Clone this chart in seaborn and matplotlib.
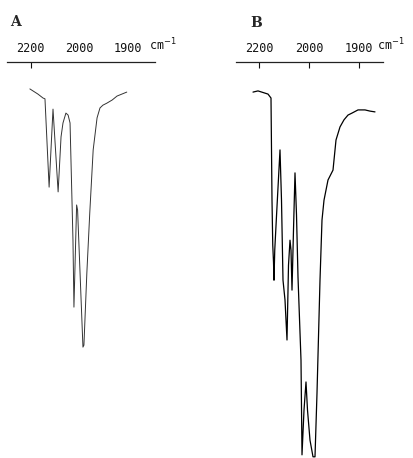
import numpy as np
import pandas as pd
import seaborn as sns
import matplotlib.pyplot as plt

# IR spectra (carbonyl region), transmittance
wn_a = [2204, 2171, 2150, 2142, 2125, 2109, 2088, 2076, 2068, 2056, 2047, 2039,
        2027, 2023, 2012, 2008, 1993, 1991, 1985, 1979, 1972, 1964, 1958, 1952,
        1944, 1933, 1923, 1913, 1903]
tr_a = [93.2, 91.9, 90.9, 90.7, 68.4, 88.1, 67.2, 81.1, 84.6, 87.1, 86.6, 84.6,
        55.0, 38.1, 63.9, 62.6, 28.0, 28.5, 46.7, 61.9, 77.8, 85.9, 88.4, 89.1,
        89.6, 90.4, 91.4, 91.9, 92.4]

wn_b = [2224, 2204, 2164, 2152, 2148, 2145, 2142, 2140, 2137, 2130, 2116, 2110,
        2104, 2096, 2088, 2082, 2076, 2072, 2068, 2062, 2056, 2050, 2044, 2032,
        2028, 2020, 2012, 2006, 1998, 1992, 1988, 1984, 1978, 1974, 1970, 1962,
        1952, 1946, 1938, 1930, 1922, 1914, 1902, 1888, 1878, 1868]
tr_b = [92.4, 92.7, 91.9, 90.9, 65.1, 53.8, 49.5, 44.9, 52.5, 61.1, 77.8, 65.1,
        44.9, 39.9, 29.8, 48.7, 55.0, 52.5, 42.4, 57.6, 72.0, 61.4, 45.7, 24.7,
        0.8, 12.1, 19.2, 12.1, 4.5, 0.3, 0.3, 16.4, 44.9, 60.1, 65.1, 70.2,
        72.7, 80.3, 83.6, 85.4, 86.6, 87.1, 87.9, 87.9, 87.6, 87.4]

tick_vals = [2200, 2000, 1900]
tick_labels = ["2200", "2000", "1900"]
panels = ["A", "B"]


# chart paper doubles the scale below 2000 cm-1
def fwd(w):
    w = np.asarray(w, dtype=float)
    return np.where(w > 2000, 2000 + (w - 2000) / 2, w)


def inv(p):
    p = np.asarray(p, dtype=float)
    return np.where(p > 2000, 2000 + 2 * (p - 2000), p)


sns.set_style("white")
plt.rcParams['font.family'] = ['DejaVu Sans Mono', 'DejaVu Sans']
plt.rcParams['mathtext.fontset'] = 'dejavusans'

fig = plt.figure(figsize=(4.13, 4.58), dpi=100)
H = 396 / 458
ax_a = fig.add_axes([7 / 413, 0, 148 / 413, H])
ax_b = fig.add_axes([236 / 413, 0, 147 / 413, H])

specs = [
    (ax_a, wn_a, tr_a, (2298, 1845), "#333333", 0.7),
    (ax_b, wn_b, tr_b, (2292, 1852), "black", 0.9),
]

for ax, wn, tr, xlim, col, lw in specs:
    df = pd.DataFrame({"wavenumber": wn, "T": tr})
    sns.lineplot(data=df, x="wavenumber", y="T", ax=ax, sort=False,
                 estimator=None, color=col, lw=lw)
    ax.set_xscale('function', functions=(fwd, inv))
    ax.set_xlim(*xlim)
    ax.set_ylim(0, 100)
    ax.set_xlabel("")
    ax.set_ylabel("")
    ax.set_yticks([])
    for s in ["left", "right", "bottom"]:
        ax.spines[s].set_visible(False)
    ax.spines["top"].set_linewidth(0.9)
    ax.spines["top"].set_color("#222222")
    ax.xaxis.set_ticks_position("top")
    ax.set_xticks(tick_vals)
    ax.set_xticklabels(tick_labels)
    ax.xaxis.set_minor_locator(plt.NullLocator())
    ax.tick_params(axis="x", direction="in", length=4, width=0.8,
                   pad=5, labelsize=8.5, colors="#111111")
    ax.annotate("cm$^{-1}$", xy=(1, 1), xycoords="axes fraction",
                xytext=(-4, 6), textcoords="offset points",
                ha="left", va="bottom", fontsize=8.5, color="#111111")

# in panel A only the 2200 tick mark is printed
for t in ax_a.xaxis.get_major_ticks()[1:]:
    t.tick2line.set_visible(False)
    t.tick1line.set_visible(False)

fig.text(10 / 413, 1 - 26 / 458, panels[0], fontsize=10, fontweight="bold",
         family="DejaVu Serif")
fig.text(250 / 413, 1 - 27 / 458, panels[1], fontsize=10, fontweight="bold",
         family="DejaVu Serif")

fig.savefig("out.png", dpi=100)
